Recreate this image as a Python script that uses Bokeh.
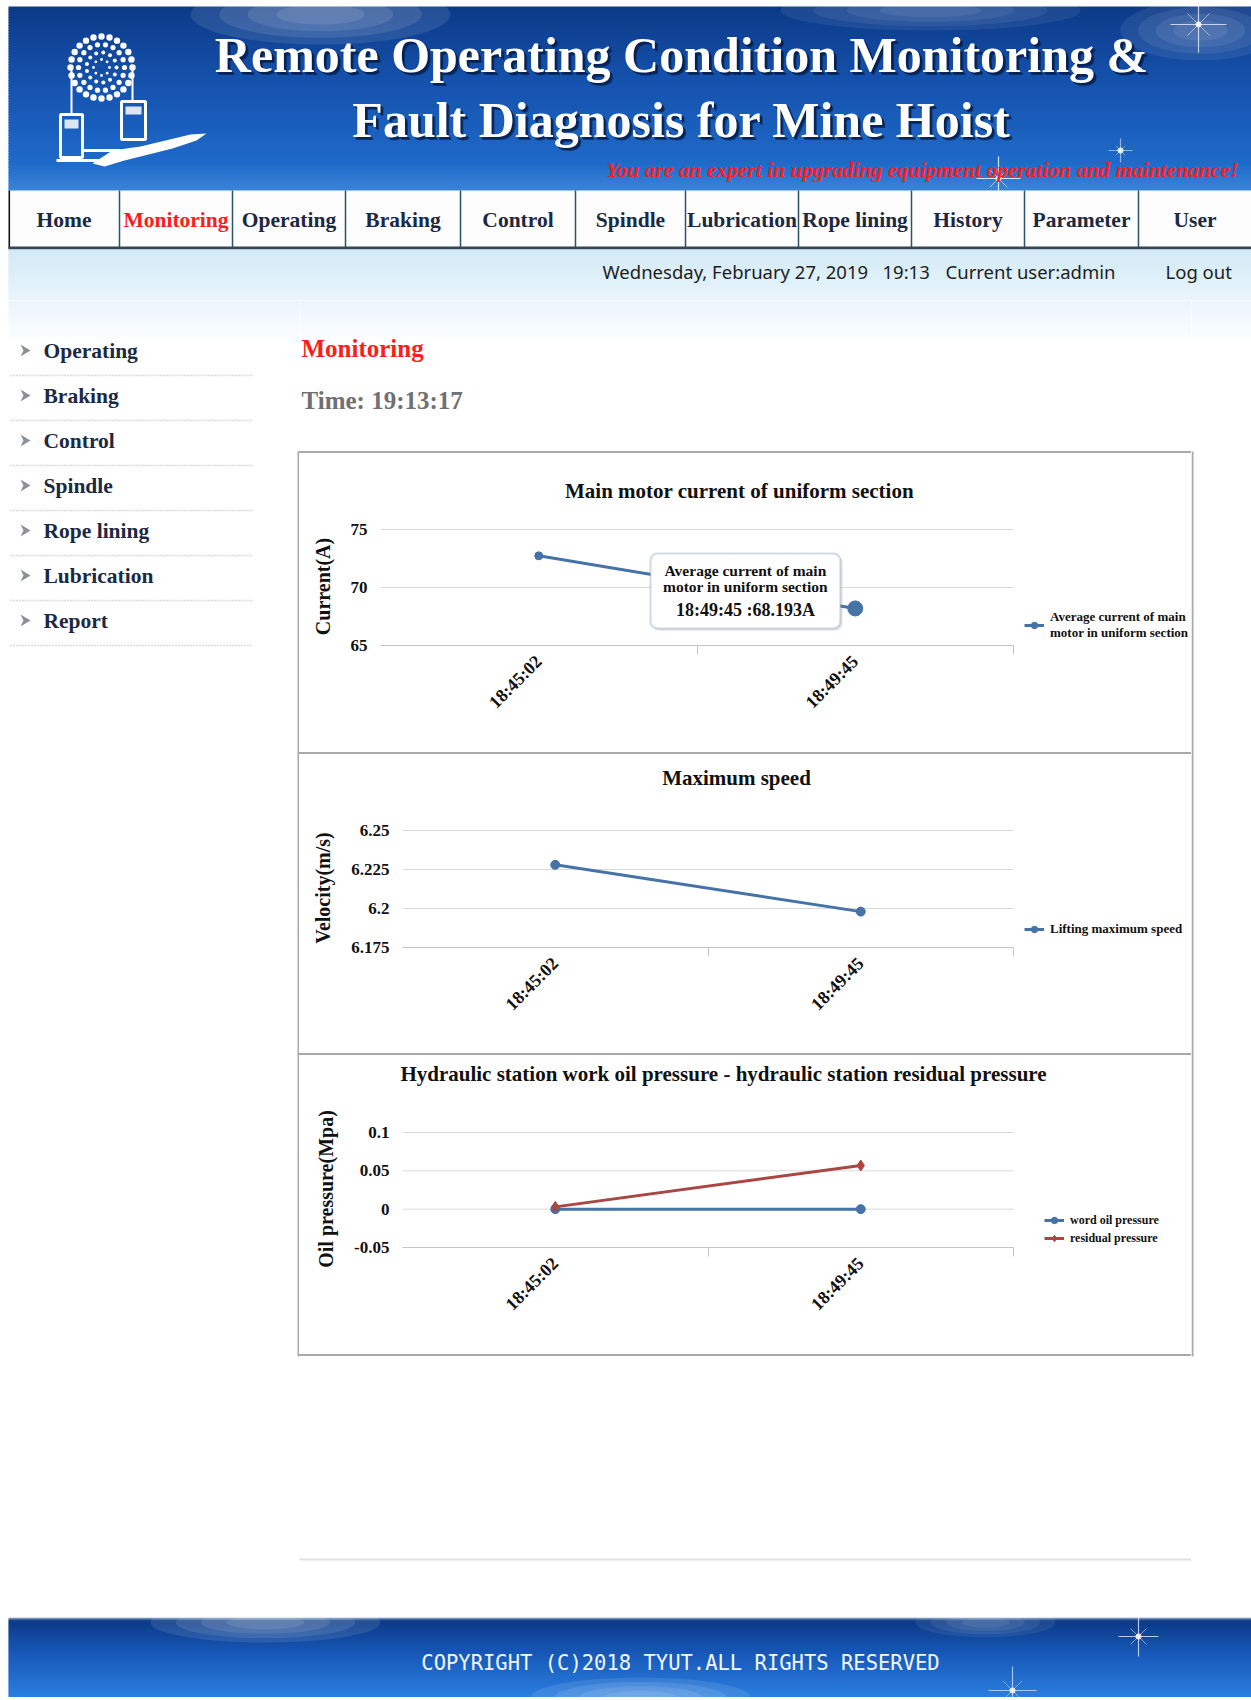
import math
from bokeh.plotting import figure
from bokeh.models import (Range1d, FixedTicker, Legend, LegendItem, Label,
                          BoxAnnotation, Spacer)
from bokeh.layouts import column, row
from bokeh.core.properties import value
from bokeh.embed import file_html
from bokeh.resources import INLINE

# ---------------- data ----------------
times = ["18:45:02", "18:49:45"]
motor_current = [72.73, 68.193]
max_speed = [6.228, 6.198]
work_oil_pressure = [0.0, 0.0]
residual_pressure = [0.003, 0.057]

current_ticks = [65, 70, 75]
current_tick_labels = ["65", "70", "75"]
speed_ticks = [6.175, 6.2, 6.225, 6.25]
speed_tick_labels = ["6.175", "6.2", "6.225", "6.25"]
pressure_ticks = [-0.05, 0, 0.05, 0.1]
pressure_tick_labels = ["-0.05", "0", "0.05", "0.1"]

hover_index = 1
current_name = "Average current of main motor in uniform section"

nav_items = ["Home", "Monitoring", "Operating", "Braking", "Control", "Spindle",
             "Lubrication", "Rope lining", "History", "Parameter", "User"]
side_items = ["Operating", "Braking", "Control", "Spindle", "Rope lining",
              "Lubrication", "Report"]

# ---------------- style / layout constants ----------------
SERIF = "Liberation Serif"
SANS = "Noto Sans"
MONO = "DejaVu Sans Mono"
BLUE = "#4572A7"
RED = "#AA4643"
NAVY_TXT = "#1c2942"

PAGE_L, PAGE_R = 0, 1251
TOP_Y1 = 300
MID_Y1 = 1617
FOOT_Y1 = 1697
LEFT_X1 = 299
RIGHT_X0 = 1191
GRID_R = 1013
BOX_TOP, BOX_BOTTOM = 451, 1356
CHART_W = RIGHT_X0 - LEFT_X1


def hex2rgb(h):
    h = h.lstrip("#")
    return [int(h[i:i + 2], 16) for i in (0, 2, 4)]


def rgb2hex(c):
    return "#%02x%02x%02x" % tuple(max(0, min(255, int(round(v)))) for v in c)


def lerp_color(stops, t):
    for (t0, c0), (t1, c1) in zip(stops, stops[1:]):
        if t <= t1:
            f = (t - t0) / (t1 - t0) if t1 > t0 else 0
            a, b = hex2rgb(c0), hex2rgb(c1)
            return rgb2hex([a[i] + (b[i] - a[i]) * f for i in range(3)])
    return stops[-1][1]


def vgrad(p, x0, x1, y0, y1, stops, n=60):
    h = (y1 - y0) / n
    tops = [y0 + i * h for i in range(n)]
    bots = [y0 + (i + 1) * h + 0.8 for i in range(n)]
    cols = [lerp_color(stops, (i + 0.5) / n) for i in range(n)]
    p.quad(left=x0, right=x1, top=tops, bottom=bots, fill_color=cols,
           line_color=None)


def deco(x0, x1, y0, y1):
    p = figure(width=x1 - x0, height=y1 - y0, x_range=Range1d(x0, x1),
               y_range=Range1d(y1, y0), output_backend="svg",
               toolbar_location=None, min_border=0, x_axis_location=None,
               y_axis_location=None, title=None, frame_align=False)
    p.grid.visible = False
    p.outline_line_color = None
    p.background_fill_color = "white"
    p.border_fill_color = "white"
    return p


def txt(p, x, y, s, size, color=NAVY_TXT, font=SERIF, style="bold",
        align="left", baseline="middle", alpha=1.0):
    p.text(x=[x], y=[y], text=[s], text_font=value(font),
           text_font_size=value(f"{size}px"), text_font_style=style,
           text_color=color, text_align=align, text_baseline=baseline,
           text_alpha=alpha)


def glow(p, x, y, w, h, a=0.12):
    for k in range(4):
        f = 1 - k * 0.22
        p.ellipse(x=[x], y=[y], width=w * f, height=h * f, fill_color="white",
                  fill_alpha=a, line_color=None)


def sparkle(p, x, y, r, a=0.7):
    p.segment(x0=[x - r, x], y0=[y, y - r], x1=[x + r, x], y1=[y, y + r],
              line_color="white", line_alpha=a, line_width=1.2)
    p.segment(x0=[x - r * 0.4, x - r * 0.4], y0=[y - r * 0.4, y + r * 0.4],
              x1=[x + r * 0.4, x + r * 0.4], y1=[y + r * 0.4, y - r * 0.4],
              line_color="white", line_alpha=a * 0.7, line_width=1)
    p.ellipse(x=[x], y=[y], width=6, height=6, fill_color="white",
              fill_alpha=0.8, line_color=None)


# ---------------- top (header + nav) ----------------
top = deco(PAGE_L, PAGE_R, 0, TOP_Y1)
vgrad(top, 8, PAGE_R, 6, 190,
      [(0, "#0c3a88"), (0.45, "#1654b0"), (0.85, "#1f69c9"), (1, "#3a84d8")], 70)
glow(top, 320, 14, 260, 60, 0.10)
glow(top, 930, 10, 300, 40, 0.07)
glow(top, 1200, 30, 160, 60, 0.08)
sparkle(top, 1198, 24, 28)
sparkle(top, 998, 178, 22, 0.8)
sparkle(top, 1120, 150, 12, 0.5)

# logo
cx, cy = 101, 67
for r, n, dr in [(31, 24, 3.2), (23, 18, 2.6), (15, 13, 2.0), (8, 8, 1.4)]:
    xs_ = [cx + r * math.cos(2 * math.pi * k / n) for k in range(n)]
    ys_ = [cy + r * math.sin(2 * math.pi * k / n) for k in range(n)]
    top.circle(x=xs_, y=ys_, radius=dr, fill_color="white", line_color=None)
top.segment(x0=[71, 132], y0=[67, 67], x1=[71, 132], y1=[114, 101],
            line_color="white", line_width=2)
top.quad(left=[60, 121], right=[82, 145], top=[114, 101], bottom=[157, 139],
         fill_color=None, line_color="white", line_width=3)
top.quad(left=[64, 125], right=[78, 141], top=[119, 106], bottom=[128, 114],
         fill_color="white", fill_alpha=0.85, line_color=None)
top.segment(x0=[56, 82], y0=[160, 150], x1=[98, 120], y1=[160, 150],
            line_color="white", line_width=3)
top.patch(x=[92, 112, 140, 165, 190, 206, 196, 172, 148, 124, 104],
          y=[163, 150, 146, 140, 134, 133, 140, 148, 154, 160, 166],
          fill_color="white", line_color=None)

# titles
for line, ty in [("Remote Operating Condition Monitoring &", 54),
                 ("Fault Diagnosis for Mine Hoist", 119)]:
    txt(top, 684, ty + 3, line, 50, "#04163a", align="center", alpha=0.55)
    txt(top, 683, ty + 2, line, 50, "#061d48", align="center", alpha=0.7)
    txt(top, 681, ty, line, 50, "#ffffff", align="center")
txt(top, 1238, 169,
    "You are an expert in upgrading equipment operation and maintenance!",
    21.5, "#ff1c1c", style="bold italic", align="right")

# nav bar
seps = [8, 119, 232, 345, 460, 575, 685, 798, 911, 1024, 1138, 1251]
top.quad(left=8, right=PAGE_R, top=190, bottom=247, fill_color="#fdfdfd",
         line_color=None)
top.segment(x0=seps[1:-1], y0=190, x1=seps[1:-1], y1=247,
            line_color="#2e5266", line_width=1.5)
top.segment(x0=[8.8], y0=[190], x1=[8.8], y1=[248], line_color="#111111",
            line_width=1.6)
top.quad(left=8, right=PAGE_R, top=246, bottom=249, fill_color="#33465a",
         line_color=None)
for i, item in enumerate(nav_items):
    xc = (seps[i] + seps[i + 1]) / 2
    col = "#ff1c1c" if item == "Monitoring" else NAVY_TXT
    txt(top, xc, 219, item, 21.5, col, align="center")

# below nav gradient + date line
vgrad(top, 8, PAGE_R, 249, TOP_Y1, [(0, "#d2eaf6"), (1, "#eaf5fb")], 20)
txt(top, 602, 271, "Wednesday, February 27, 2019", 18.5, "#1d1d1d", font=SANS,
    style="normal")
txt(top, 882, 271, "19:13", 18.5, "#1d1d1d", font=SANS, style="normal")
txt(top, 945, 271, "Current user:admin", 18.5, "#1d1d1d", font=SANS,
    style="normal")
txt(top, 1165, 271, "Log out", 18.5, "#1d1d1d", font=SANS, style="normal")

# ---------------- left side bar ----------------
left = deco(PAGE_L, LEFT_X1, TOP_Y1, MID_Y1)
vgrad(left, 8, LEFT_X1, TOP_Y1, 345, [(0, "#eaf5fb"), (1, "#ffffff")], 15)
item_y = [350 + 45 * i for i in range(len(side_items))]
left.patches(xs=[[20, 30, 20, 23] for _ in item_y],
             ys=[[y - 6, y, y + 6, y] for y in item_y],
             fill_color="#8a9098", line_color=None)
for s, y in zip(side_items, item_y):
    txt(left, 43, y, s, 21.5, NAVY_TXT)
left.segment(x0=10, x1=253, y0=[y + 25 for y in item_y],
             y1=[y + 25 for y in item_y], line_color="#b8b8b8",
             line_width=1.5, line_dash="1 2")
left.segment(x0=[298], y0=[BOX_TOP], x1=[298], y1=[BOX_BOTTOM],
             line_color="#a9a9a9", line_width=2)

# ---------------- right strip ----------------
right = deco(RIGHT_X0, PAGE_R, TOP_Y1, MID_Y1)
vgrad(right, RIGHT_X0, PAGE_R, TOP_Y1, 345, [(0, "#eaf5fb"), (1, "#ffffff")], 15)
right.segment(x0=[1192], y0=[BOX_TOP], x1=[1192], y1=[BOX_BOTTOM],
              line_color="#a9a9a9", line_width=2)

# ---------------- middle top ----------------
mid_top = deco(LEFT_X1, RIGHT_X0, TOP_Y1, BOX_TOP)
vgrad(mid_top, LEFT_X1, RIGHT_X0, TOP_Y1, 345, [(0, "#eaf5fb"), (1, "#ffffff")], 15)
txt(mid_top, 301, 348, "Monitoring", 25, "#ff1c1c")
txt(mid_top, 301, 400, "Time: 19:13:17", 25, "#707070")

# ---------------- middle bottom ----------------
mid_bot = deco(LEFT_X1, RIGHT_X0, BOX_BOTTOM, MID_Y1)
mid_bot.segment(x0=[LEFT_X1], y0=[1559], x1=[RIGHT_X0], y1=[1559],
                line_color="#c2c2c2", line_width=2, line_dash="1 1")


# ---------------- charts ----------------
def make_chart(cell_top, fig_top, fig_bot, frame_l, grid_top, frame_b, lo, hi,
               ticks, labels, ytitle, title, title_xy):
    strip = deco(LEFT_X1, RIGHT_X0, cell_top, fig_top)
    txt(strip, title_xy[0], title_xy[1], title, 21, "#111111", align="center")
    n = len(times)
    ppu_y = (frame_b - grid_top) / (hi - lo)
    ppu_x = (GRID_R - frame_l) / n
    p = figure(width=CHART_W, height=fig_bot - fig_top,
               x_range=Range1d(0, (RIGHT_X0 - frame_l) / ppu_x),
               y_range=Range1d(lo, hi + 2.0 / ppu_y), output_backend="svg",
               toolbar_location=None, title=None, frame_align=False,
               min_border_left=frame_l - LEFT_X1, min_border_right=0,
               min_border_top=grid_top - 2 - fig_top,
               min_border_bottom=fig_bot - frame_b)
    p.outline_line_color = None
    p.background_fill_color = "white"
    p.border_fill_color = "white"
    xs = [i + 0.5 for i in range(n)]
    xa = p.xaxis[0]
    xa.ticker = FixedTicker(ticks=xs, minor_ticks=[i + 1 for i in range(n)])
    xa.major_label_overrides = {x: t for x, t in zip(xs, times)}
    xa.major_label_orientation = math.pi / 4
    xa.bounds = (0, n)
    xa.axis_line_color = "#c4c4c4"
    xa.major_tick_line_color = None
    xa.major_tick_out = 0
    xa.major_tick_in = 0
    xa.minor_tick_line_color = "#c4c4c4"
    xa.minor_tick_out = 9
    xa.minor_tick_in = 0
    xa.major_label_standoff = 4
    xa.major_label_text_font = SERIF
    xa.major_label_text_font_style = "bold"
    xa.major_label_text_font_size = "18px"
    xa.major_label_text_color = "#111111"
    ya = p.yaxis[0]
    ya.ticker = FixedTicker(ticks=ticks)
    ya.major_label_overrides = {t: l for t, l in zip(ticks, labels)}
    ya.axis_line_color = None
    ya.major_tick_line_color = None
    ya.minor_tick_line_color = None
    ya.major_tick_out = 0
    ya.major_label_standoff = 13
    ya.major_label_text_font = SERIF
    ya.major_label_text_font_style = "bold"
    ya.major_label_text_font_size = "17px"
    ya.major_label_text_color = "#111111"
    ya.axis_label = ytitle
    ya.axis_label_text_font = SERIF
    ya.axis_label_text_font_style = "bold"
    ya.axis_label_text_font_size = "20px"
    ya.axis_label_text_color = "#111111"
    ya.axis_label_standoff = 14
    p.grid.visible = False
    # horizontal grid lines, one per tick, limited to the category span
    p.segment(x0=0, x1=n, y0=ticks, y1=ticks, line_color="#d9d9d9",
              line_width=1)
    return column(strip, p, spacing=0), p, xs


def style_legend(leg):
    leg.label_text_font = SERIF
    leg.label_text_font_style = "bold"
    leg.label_text_font_size = "13px"
    leg.label_text_color = "#111111"
    leg.glyph_width = 20
    leg.glyph_height = 16
    leg.label_height = 16
    leg.label_standoff = 6
    leg.padding = 0
    leg.margin = 0
    leg.spacing = 2
    leg.border_line_color = None
    leg.background_fill_alpha = 0


# chart 1
cell1, c1, xs = make_chart(453, 510, 752, 380, 529, 645, 65, 75, current_ticks,
                           current_tick_labels, "Current(A)",
                           "Main motor current of uniform section", (739, 490))
l1 = c1.line(xs, motor_current, line_color=BLUE, line_width=3)
s1 = c1.scatter(xs, motor_current, size=8, fill_color=BLUE, line_color=BLUE)
hx, hy = xs[hover_index], motor_current[hover_index]
c1.add_layout(BoxAnnotation(left=hx - 0.640, right=hx - 0.040, top=hy + 4.55,
                            bottom=hy - 1.92, fill_color="#777777",
                            fill_alpha=0.18, line_color=None, border_radius=7))
c1.add_layout(BoxAnnotation(left=hx - 0.647, right=hx - 0.047, top=hy + 4.74,
                            bottom=hy - 1.72, fill_color="white", fill_alpha=1,
                            line_color="#5d84aa", line_width=2, border_radius=7))
words = current_name.split(" ")
tip1, tip2 = " ".join(words[:4]), " ".join(words[4:])
for t, dy, fs in [(tip1, 3.28, "15.5px"), (tip2, 1.90, "15.5px"),
                  (f"{times[hover_index]} :{motor_current[hover_index]}A", -0.17, "18px")]:
    c1.add_layout(Label(x=hx - 0.347, y=hy + dy, text=t, text_align="center",
                        text_baseline="middle", text_font=SERIF,
                        text_font_style="bold", text_font_size=fs,
                        text_color="#111111"))
c1.scatter([hx], [hy], size=15, fill_color=BLUE, line_color=BLUE)
leg1 = Legend(items=[LegendItem(label=value(tip1 + "\n" + tip2),
                                renderers=[l1, s1])], location=(644, 4))
style_legend(leg1)
leg1.label_height = 30
c1.add_layout(leg1)

# chart 2
cell2, c2, xs = make_chart(754, 810, 1053, 402, 830, 947, 6.175, 6.25,
                           speed_ticks, speed_tick_labels, "Velocity(m/s)",
                           "Maximum speed", (736, 777))
l2 = c2.line(xs, max_speed, line_color=BLUE, line_width=3)
s2 = c2.scatter(xs, max_speed, size=9, fill_color=BLUE, line_color=BLUE)
leg2 = Legend(items=[LegendItem(label=value("Lifting maximum speed"),
                                renderers=[l2, s2])], location=(622, 10))
style_legend(leg2)
c2.add_layout(leg2)

# chart 3
cell3, c3, xs = make_chart(1055, 1110, 1354, 402, 1132, 1247, -0.05, 0.1,
                           pressure_ticks, pressure_tick_labels,
                           "Oil pressure(Mpa)",
                           "Hydraulic station work oil pressure - hydraulic station residual pressure",
                           (723, 1073))
l3a = c3.line(xs, work_oil_pressure, line_color=BLUE, line_width=3)
s3a = c3.scatter(xs, work_oil_pressure, size=9, fill_color=BLUE, line_color=BLUE)
l3b = c3.line(xs, residual_pressure, line_color=RED, line_width=3)
s3b = c3.scatter(xs, residual_pressure, marker="diamond", size=11,
                 fill_color=RED, line_color=RED)
leg3 = Legend(items=[LegendItem(label=value("word oil pressure"), renderers=[l3a, s3a]),
                     LegendItem(label=value("residual pressure"), renderers=[l3b, s3b])],
              location=(642, 1))
style_legend(leg3)
leg3.label_text_font_size = "12px"
c3.add_layout(leg3)


def sep():
    return Spacer(width=CHART_W, height=2, styles={"background-color": "#a9a9a9"})


# ---------------- footer ----------------
foot = deco(PAGE_L, PAGE_R, MID_Y1, FOOT_Y1)
vgrad(foot, 8, PAGE_R, MID_Y1, FOOT_Y1,
      [(0, "#9bb6d8"), (0.04, "#0b3a86"), (0.45, "#1758b8"), (1, "#2a7fe0")], 40)
glow(foot, 265, 1622, 230, 40, 0.10)
glow(foot, 985, 1622, 140, 30, 0.07)
glow(foot, 640, 1697, 220, 40, 0.10)
sparkle(foot, 1138, 1636, 20)
sparkle(foot, 1012, 1690, 24, 0.6)
txt(foot, 680, 1662, "COPYRIGHT (C)2018 TYUT.ALL RIGHTS RESERVED", 20.5,
    "#f2f6ff", font=MONO, style="normal", align="center")

center = column(mid_top, sep(), cell1, sep(), cell2, sep(), cell3, sep(),
                mid_bot, spacing=0)
middle = row(left, center, right, spacing=0)
page = column(top, middle, foot, spacing=0)

open("out.html", "w").write(file_html(page, INLINE))
